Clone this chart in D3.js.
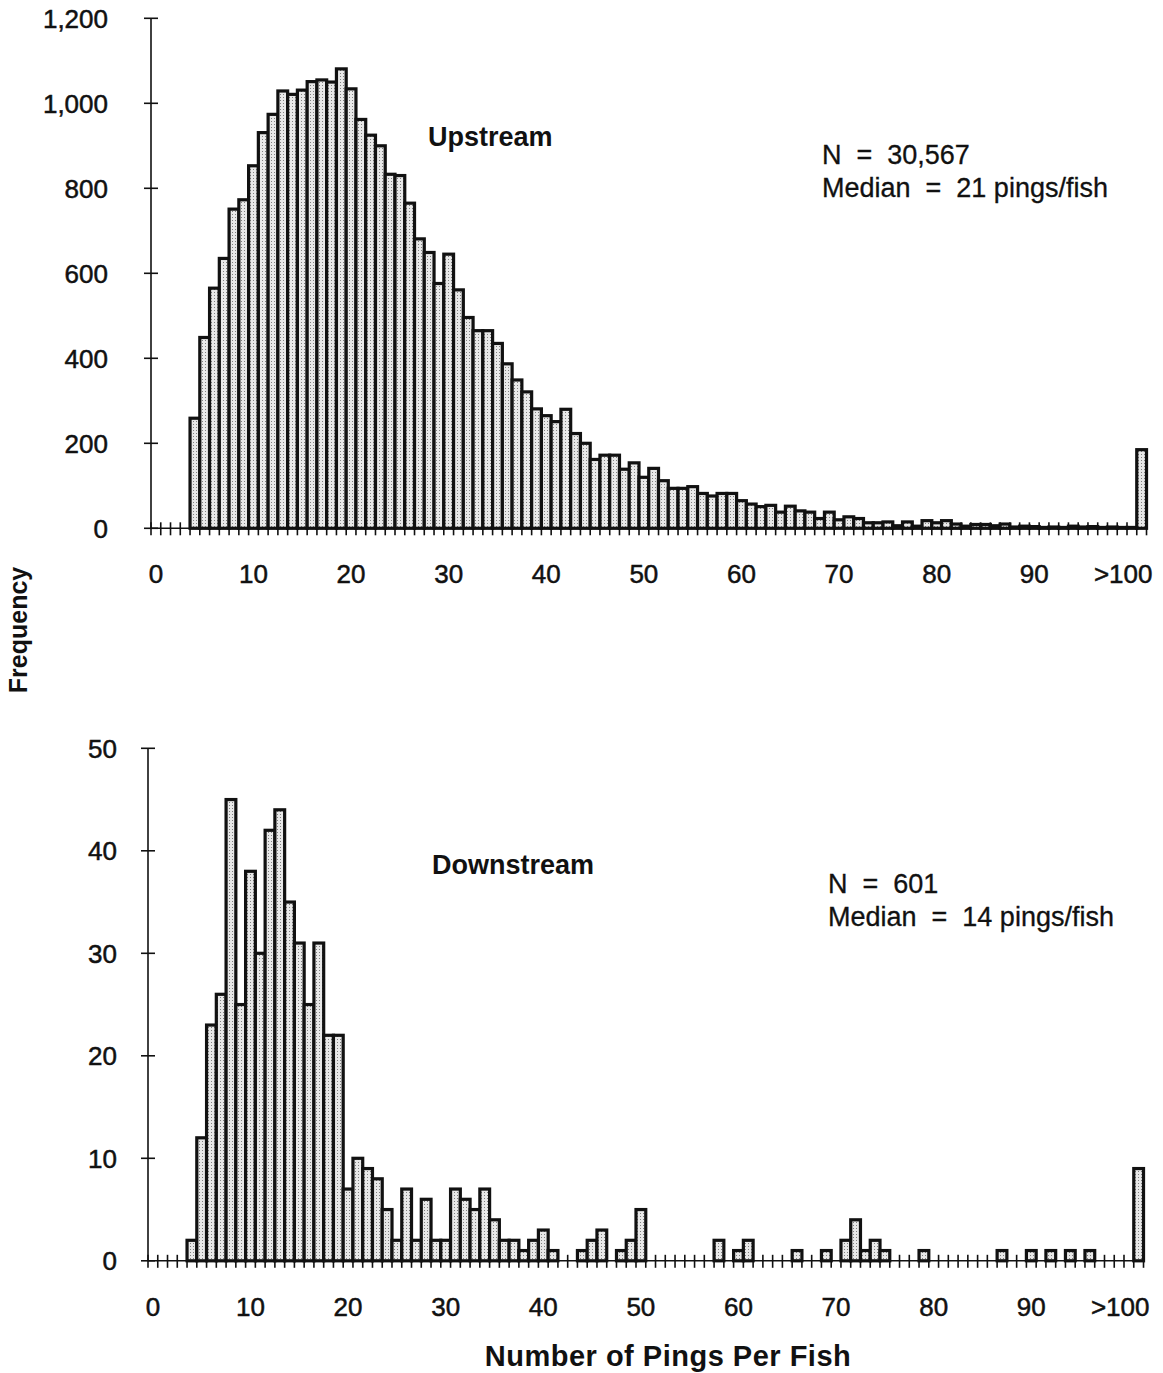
<!DOCTYPE html>
<html>
<head>
  <meta charset="UTF-8">
  <title>Pings per fish</title>
  <script src="https://d3js.org/d3.v7.min.js"></script>
  <style>
    body { margin: 0; background: #fff; }
    text { font-family: Arial, "Liberation Sans", Helvetica, sans-serif; fill: #111; }
    .tick-label { font-size: 26px; stroke: #111; stroke-width: 0.5px; }
    .note { font-size: 27px; white-space: pre; stroke: #111; stroke-width: 0.3px; }
    .title { font-size: 27px; font-weight: bold; }
    .axis-title { font-size: 25px; font-weight: bold; }
    .x-title { font-size: 29px; font-weight: bold; letter-spacing: 0.5px; }
    .bar { fill: url(#stipple); stroke: #111; stroke-width: 3.2; }
    .axis-line { stroke: #111; stroke-width: 1.6; }
  </style>
</head>
<body>
<svg width="1163" height="1373"></svg>
<script>
// bins 0..100 plus the ">100" bin
var bins = d3.range(0, 101).concat([">100"])

// Upstream: frequency per ping count, index = pings, last = >100
var upstream = [
  0, 0, 0, 0, 259, 449, 565, 635, 751, 773,          // 0-9
  853, 931, 974, 1029, 1021, 1031, 1051, 1055, 1050, 1081, // 10-19
  1034, 962, 925, 900, 833, 830, 765, 681, 649, 576,  // 20-29
  645, 561, 496, 465, 465, 435, 387, 349, 321, 281,   // 30-39
  265, 251, 280, 223, 200, 162, 172, 172, 139, 154,   // 40-49
  120, 141, 112, 94, 94, 98, 82, 76, 82, 82,          // 50-59
  65, 57, 51, 54, 38, 52, 41, 38, 23, 38,             // 60-69
  20, 27, 23, 13, 13, 15, 6, 15, 5, 18,               // 70-79
  13, 18, 10, 5, 9, 9, 6, 10, 3, 5,                   // 80-89
  4, 2, 3, 2, 5, 3, 4, 2, 3, 2,                       // 90-99
  2, 185                                              // 100, >100
]

// Downstream
var downstream = [
  0, 0, 0, 0, 2, 12, 23, 26, 45, 25,                  // 0-9
  38, 30, 42, 44, 35, 31, 25, 31, 22, 22,             // 10-19
  7, 10, 9, 8, 5, 2, 7, 2, 6, 2,                      // 20-29
  2, 7, 6, 5, 7, 4, 2, 2, 1, 2,                       // 30-39
  3, 1, 0, 0, 1, 2, 3, 0, 1, 2,                       // 40-49
  5, 0, 0, 0, 0, 0, 0, 0, 2, 0,                       // 50-59
  1, 2, 0, 0, 0, 0, 1, 0, 0, 1,                       // 60-69
  0, 2, 4, 1, 2, 1, 0, 0, 0, 1,                       // 70-79
  0, 0, 0, 0, 0, 0, 0, 1, 0, 0,                       // 80-89
  1, 0, 1, 0, 1, 0, 1, 0, 0, 0,                       // 90-99
  0, 9                                                // 100, >100
]

var xTickBins = [0, 10, 20, 30, 40, 50, 60, 70, 80, 90, ">100"]
var upYTicks = [0, 200, 400, 600, 800, 1000, 1200]
var downYTicks = [0, 10, 20, 30, 40, 50]

var svg = d3.select("svg")

// stippled grey fill like the printed bars
var pat = svg.append("defs").append("pattern")
  .attr("id", "stipple")
  .attr("patternUnits", "userSpaceOnUse")
  .attr("width", 3).attr("height", 3)
pat.append("rect").attr("width", 3).attr("height", 3).attr("fill", "#e8e8e8")
pat.append("rect").attr("x", 1).attr("y", 1).attr("width", 1).attr("height", 1).attr("fill", "#808080")

function panel(opts) {
  var g = svg.append("g")
  var x = d3.scaleBand().domain(bins)
    .range([opts.left, opts.left + bins.length * 9.76])
    .padding(0)
  var y = d3.scaleLinear().domain(opts.yDomain).range([opts.bottom, opts.top])
  var data = bins.map(function(b, i) { return { bin: b, v: opts.values[i] } })

  // x axis: baseline plus crossing ticks at every bin boundary
  g.append("line").attr("class", "axis-line")
    .attr("x1", opts.left).attr("x2", x.range()[1])
    .attr("y1", y(0)).attr("y2", y(0))
  g.selectAll(".xtick").data(bins.concat(["end"])).enter().append("line")
    .attr("class", "axis-line")
    .attr("x1", function(d) { return d === "end" ? x.range()[1] : x(d) })
    .attr("x2", function(d) { return d === "end" ? x.range()[1] : x(d) })
    .attr("y1", y(0) - 6).attr("y2", y(0) + 7)

  // y axis with crossing ticks
  g.append("line").attr("class", "axis-line")
    .attr("x1", opts.left).attr("x2", opts.left)
    .attr("y1", y(opts.yDomain[1])).attr("y2", y(0))
  g.selectAll(".ytick").data(opts.yTicks).enter().append("line")
    .attr("class", "axis-line")
    .attr("x1", opts.left - 7).attr("x2", opts.left + 7)
    .attr("y1", function(d) { return y(d) }).attr("y2", function(d) { return y(d) })
  g.selectAll(".ylab").data(opts.yTicks).enter().append("text")
    .attr("class", "tick-label")
    .attr("text-anchor", "end")
    .attr("x", opts.left - opts.labelGap)
    .attr("y", function(d) { return y(d) })
    .attr("dy", "0.36em")
    .text(d3.format(","))

  // bars (zero bins are not drawn)
  g.selectAll(".bar").data(data.filter(function(d) { return d.v > 0 })).enter().append("rect")
    .attr("class", "bar")
    .attr("x", function(d) { return x(d.bin) })
    .attr("width", x.bandwidth())
    .attr("y", function(d) { return y(d.v) })
    .attr("height", function(d) { return y(0) - y(d.v) })

  // x tick labels
  g.selectAll(".xlab").data(xTickBins).enter().append("text")
    .attr("class", "tick-label")
    .attr("text-anchor", function(d) { return d === ">100" ? "end" : "middle" })
    .attr("x", function(d) {
      return d === ">100" ? x(d) + x.bandwidth() + 6 : x(d) + x.bandwidth() / 2
    })
    .attr("y", y(0) + 55)
    .text(function(d) { return d })

  g.append("text").attr("class", "title")
    .attr("x", opts.titleX).attr("y", opts.titleY).text(opts.title)
  g.append("text").attr("class", "note")
    .attr("x", opts.noteX).attr("y", opts.noteY).text(opts.n)
  g.append("text").attr("class", "note")
    .attr("x", opts.noteX).attr("y", opts.noteY + 33).text(opts.median)
}

panel({
  values: upstream, left: 151, top: 18.3, bottom: 528.3,
  yDomain: [0, 1200], yTicks: upYTicks, labelGap: 43,
  title: "Upstream", titleX: 428, titleY: 146,
  n: "N  =  30,567", median: "Median  =  21 pings/fish", noteX: 822, noteY: 164
})

panel({
  values: downstream, left: 148, top: 748.3, bottom: 1260.8,
  yDomain: [0, 50], yTicks: downYTicks, labelGap: 31,
  title: "Downstream", titleX: 432, titleY: 874,
  n: "N  =  601", median: "Median  =  14 pings/fish", noteX: 828, noteY: 893
})

svg.append("text").attr("class", "axis-title")
  .attr("text-anchor", "middle")
  .attr("transform", "translate(27,630) rotate(-90)")
  .text("Frequency")

svg.append("text").attr("class", "x-title")
  .attr("text-anchor", "middle")
  .attr("x", 668).attr("y", 1366)
  .text("Number of Pings Per Fish")
</script>
</body>
</html>
